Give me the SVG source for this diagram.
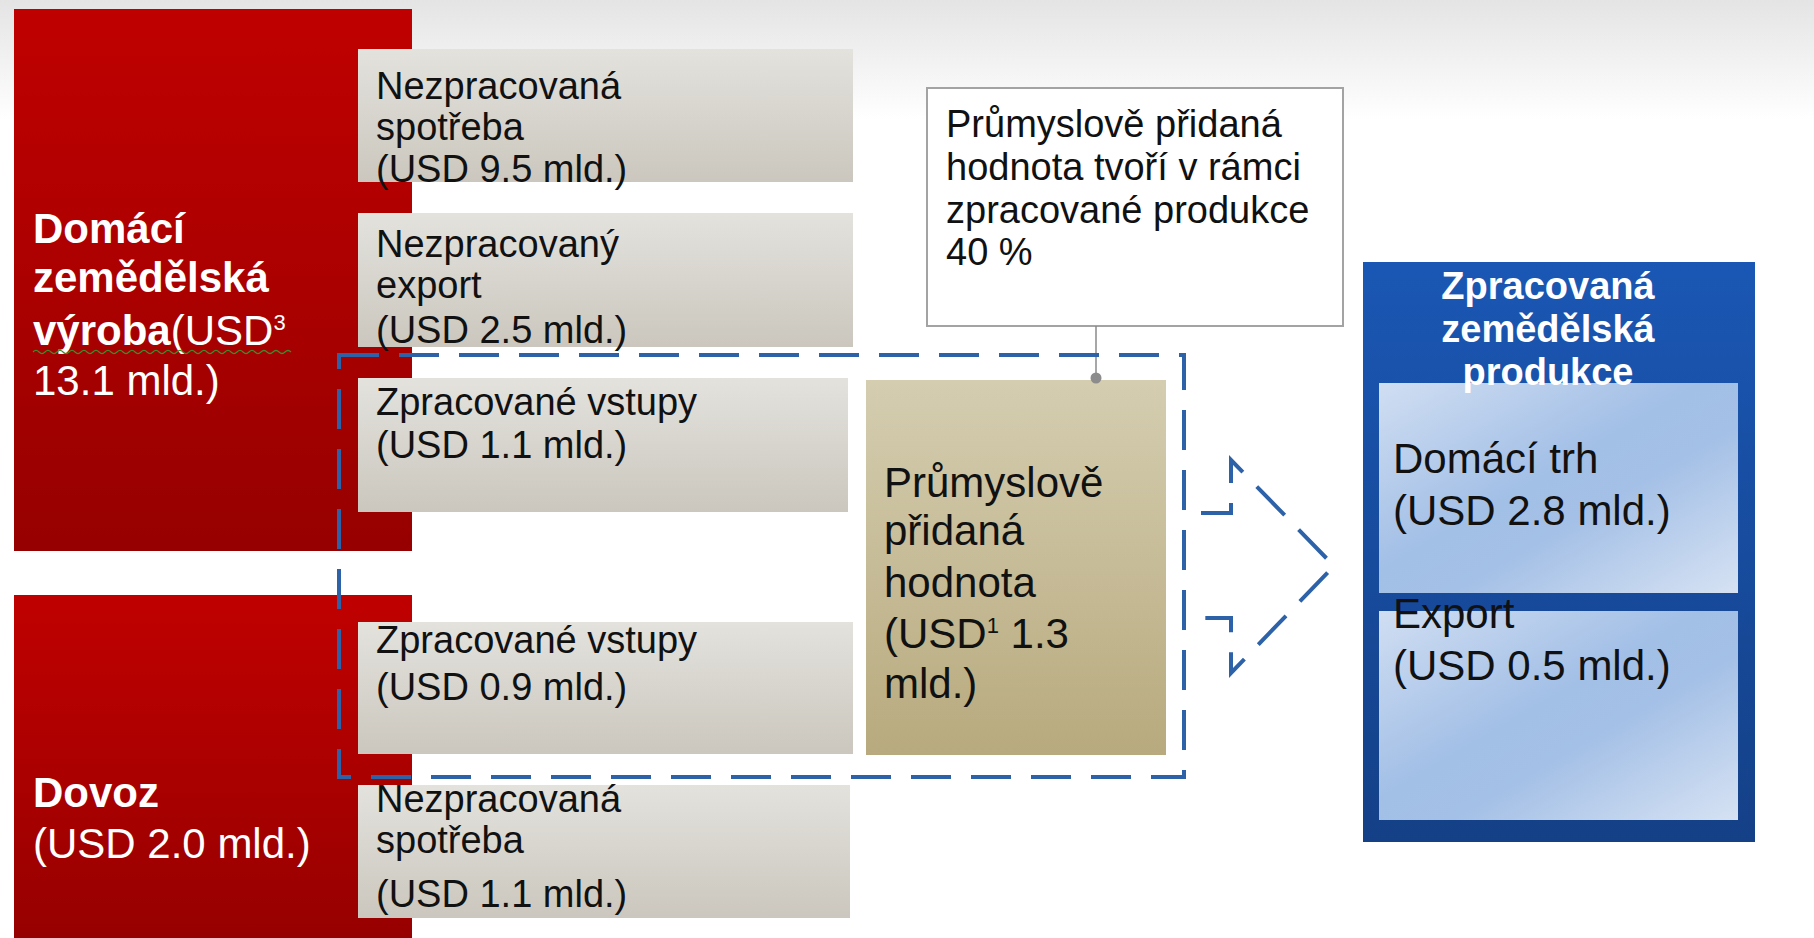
<svg xmlns="http://www.w3.org/2000/svg" width="1814" height="938" viewBox="0 0 1814 938">
<defs>
<linearGradient id="bg" x1="0" y1="0" x2="0" y2="1"><stop offset="0" stop-color="#e4e4e4"/><stop offset="1" stop-color="#ffffff"/></linearGradient>
<linearGradient id="red" x1="0" y1="0" x2="0" y2="1"><stop offset="0" stop-color="#c00000"/><stop offset="1" stop-color="#970000"/></linearGradient>
<linearGradient id="gray" x1="0" y1="0" x2="0" y2="1"><stop offset="0" stop-color="#e3e2dd"/><stop offset="1" stop-color="#cbc7be"/></linearGradient>
<linearGradient id="tan" x1="0" y1="0" x2="0" y2="1"><stop offset="0" stop-color="#d4cdb0"/><stop offset="1" stop-color="#b8aa7e"/></linearGradient>
<linearGradient id="blue" x1="0" y1="0" x2="0" y2="1"><stop offset="0" stop-color="#1a57b4"/><stop offset="1" stop-color="#144087"/></linearGradient>
<linearGradient id="lblue" x1="0" y1="0" x2="1" y2="1"><stop offset="0" stop-color="#d0def2"/><stop offset="0.45" stop-color="#a2bfe6"/><stop offset="0.6" stop-color="#a4c0e6"/><stop offset="1" stop-color="#d6e2f3"/></linearGradient>
<style>
text{font-family:"Liberation Sans",Arial,sans-serif}
.g{font-size:38px;fill:#111}
.w{font-size:42px;fill:#fff}
.b{font-weight:bold}
.t{font-size:42px;fill:#111}
.c{font-size:38px;fill:#111}
.h{font-size:38px;fill:#fff;font-weight:bold;text-anchor:middle}
.dash{fill:none;stroke:#2e62a8;stroke-width:4;stroke-dasharray:40 20}
</style>
</defs>
<rect x="0" y="0" width="1814" height="938" fill="#fff"/>
<rect x="0" y="0" width="1814" height="120" fill="url(#bg)"/>

<g id="domaci-vyroba">
<rect x="14" y="9" width="398" height="542" fill="url(#red)"/>
<text class="w"><tspan class="b" x="33" y="243">Domácí</tspan><tspan class="b" x="33" y="292">zemědělská</tspan><tspan x="33" y="345"><tspan class="b">výroba</tspan>(USD<tspan font-size="22" dy="-15">3</tspan></tspan><tspan x="33" y="395">13.1 mld.)</tspan></text>
<path d="M33,352 q3,-3 6,0 t6,0 t6,0 t6,0 t6,0 t6,0 t6,0 t6,0 t6,0 t6,0 t6,0 t6,0 t6,0 t6,0 t6,0 t6,0 t6,0 t6,0 t6,0 t6,0 t6,0 t6,0 t6,0 t6,0 t6,0 t6,0 t6,0 t6,0 t6,0 t6,0 t6,0 t6,0 t6,0 t6,0 t6,0 t6,0 t6,0 t6,0 t6,0 t6,0 t6,0 t6,0 t6,0" fill="none" stroke="#3c8c2c" stroke-width="1.2"/>
</g>

<g id="dovoz">
<rect x="14" y="595" width="398" height="343" fill="url(#red)"/>
<text class="w"><tspan class="b" x="33" y="807">Dovoz</tspan><tspan x="33" y="858">(USD 2.0 mld.)</tspan></text>
</g>

<g id="nezpracovana-spotreba-1">
<rect x="358" y="49" width="495" height="133" fill="url(#gray)"/>
<text class="g"><tspan x="376" y="99">Nezpracovaná</tspan><tspan x="376" y="140">spotřeba</tspan><tspan x="376" y="182">(USD 9.5 mld.)</tspan></text>
</g>

<g id="nezpracovany-export">
<rect x="358" y="213" width="495" height="134" fill="url(#gray)"/>
<text class="g"><tspan x="376" y="257">Nezpracovaný</tspan><tspan x="376" y="298">export</tspan><tspan x="376" y="343">(USD 2.5 mld.)</tspan></text>
</g>

<g id="zpracovane-vstupy-1">
<rect x="358" y="378" width="490" height="134" fill="url(#gray)"/>
<text class="g"><tspan x="376" y="415">Zpracované vstupy</tspan><tspan x="376" y="458">(USD 1.1 mld.)</tspan></text>
</g>

<g id="zpracovane-vstupy-2">
<rect x="358" y="622" width="495" height="132" fill="url(#gray)"/>
<text class="g"><tspan x="376" y="653">Zpracované vstupy</tspan><tspan x="376" y="700">(USD 0.9 mld.)</tspan></text>
</g>

<g id="nezpracovana-spotreba-2">
<rect x="358" y="785" width="492" height="133" fill="url(#gray)"/>
<text class="g"><tspan x="376" y="812">Nezpracovaná</tspan><tspan x="376" y="853">spotřeba</tspan><tspan x="376" y="907">(USD 1.1 mld.)</tspan></text>
</g>

<g id="prumyslove-pridana-hodnota">
<rect x="866" y="380" width="300" height="375" fill="url(#tan)"/>
<text class="t"><tspan x="884" y="497">Průmyslově</tspan><tspan x="884" y="545">přidaná</tspan><tspan x="884" y="597">hodnota</tspan><tspan x="884" y="648">(USD<tspan font-size="22" dy="-15">1</tspan><tspan dy="15"> 1.3</tspan></tspan><tspan x="884" y="698">mld.)</tspan></text>
</g>

<g id="callout">
<rect x="927" y="88" width="416" height="238" fill="#fff" stroke="#a3a3a3" stroke-width="2"/>
<text class="c"><tspan x="946" y="137">Průmyslově přidaná</tspan><tspan x="946" y="180">hodnota tvoří v rámci</tspan><tspan x="946" y="223">zpracované produkce</tspan><tspan x="946" y="265">40 %</tspan></text>
</g>

<g id="zpracovana-produkce">
<rect x="1363" y="262" width="392" height="580" fill="url(#blue)"/>
<rect x="1379" y="383" width="359" height="210" fill="url(#lblue)"/>
<rect x="1379" y="611" width="359" height="209" fill="url(#lblue)"/>
<text class="h"><tspan x="1548" y="299">Zpracovaná</tspan><tspan x="1548" y="342">zemědělská</tspan><tspan x="1548" y="385">produkce</tspan></text>
<text class="t"><tspan x="1393" y="473">Domácí trh</tspan><tspan x="1393" y="525">(USD 2.8 mld.)</tspan></text>
<text class="t"><tspan x="1393" y="628">Export</tspan><tspan x="1393" y="680">(USD 0.5 mld.)</tspan></text>
</g>

<g id="connectors">
<line x1="1096" y1="326" x2="1096" y2="378" stroke="#8a8a8a" stroke-width="1.5"/>
<circle cx="1096" cy="378" r="5.5" fill="#8c8c8c"/>
<rect x="339" y="355" width="845" height="422" class="dash"/>
<path d="M1201,513 L1231,513 L1231,460 L1334,566 L1231,673 L1231,618 L1201,618" class="dash"/>
</g>
</svg>
